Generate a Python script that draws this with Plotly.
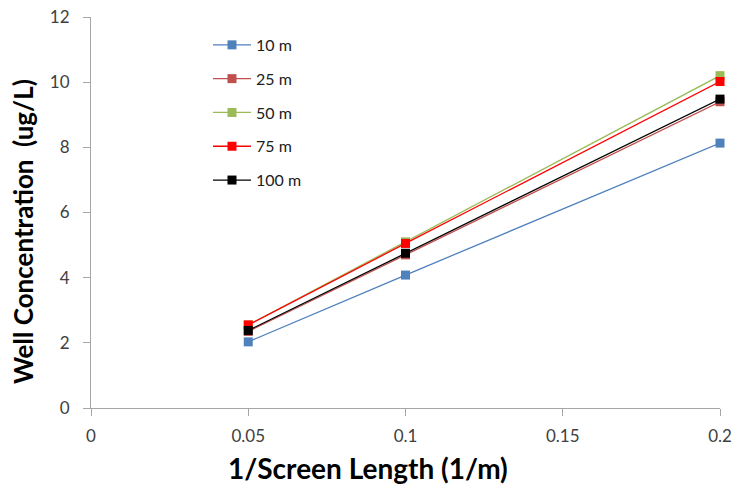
import plotly.graph_objects as go

x_vals = [0.05, 0.1, 0.2]
series_names = ["10 m", "25 m", "50 m", "75 m", "100 m"]
y_10 = [2.03, 4.08, 8.13]
y_25 = [2.35, 4.70, 9.40]
y_50 = [2.55, 5.10, 10.20]
y_75 = [2.55, 5.05, 10.02]
y_100 = [2.38, 4.75, 9.48]
colors = ["#4F81BD", "#C0504D", "#9BBB59", "#FF0000", "#000000"]
x_ticks = [0, 0.05, 0.1, 0.15, 0.2]
x_tick_labels = ["0", "0.05", "0.1", "0.15", "0.2"]
y_ticks = [0, 2, 4, 6, 8, 10, 12]
x_title = "1/Screen Length (1/m)"
y_title = "Well Concentration  (ug/L)"

fig = go.Figure()
for i, (name, ys) in enumerate(zip(series_names, [y_10, y_25, y_50, y_75, y_100])):
    fig.add_trace(go.Scatter(
        x=x_vals, y=ys, name=name, mode="lines+markers",
        line=dict(color=colors[i], width=1.3),
        marker=dict(symbol="square", size=9, color=colors[i]),
        legendgroup=name, cliponaxis=False,
    ))

font_family = "Lato, 'Open Sans', sans-serif"
fig.update_layout(
    width=737, height=490,
    margin=dict(l=91, r=17, t=17, b=82),
    paper_bgcolor="white", plot_bgcolor="white",
    font=dict(family=font_family, color="#404040", size=17),
    legend=dict(x=0.186, y=0.972, xanchor="left", yanchor="top",
                font=dict(size=16, color="#202020"), tracegroupgap=10,
                itemwidth=38,
                traceorder="grouped", bgcolor="rgba(0,0,0,0)"),
    xaxis=dict(range=[0, 0.2], tickvals=x_ticks, ticktext=x_tick_labels,
               showline=True, linecolor="#A6A6A6", linewidth=1,
               ticks="outside", ticklen=7, tickcolor="#A6A6A6",
               ticklabelstandoff=6,
               showgrid=False, zeroline=False, automargin=False),
    yaxis=dict(range=[0, 12], tickvals=y_ticks,
               showline=True, linecolor="#A6A6A6", linewidth=1,
               ticks="outside", ticklen=7, tickcolor="#A6A6A6",
               ticklabelstandoff=10,
               showgrid=False, zeroline=False, automargin=False),
    annotations=[
        dict(text="<b>" + x_title + "</b>", xref="paper", yref="paper",
             x=0.440, y=-0.153, xanchor="center", yanchor="middle", showarrow=False,
             font=dict(size=28, color="#000000")),
        dict(text="<b>" + y_title + "</b>", xref="paper", yref="paper",
             x=-0.108, y=0.450, xanchor="center", yanchor="middle", showarrow=False,
             textangle=-90, font=dict(size=26, color="#000000")),
    ],
)

fig.write_html("out.html", config={"displayModeBar": False},
               post_script="document.body.style.margin='0';")
